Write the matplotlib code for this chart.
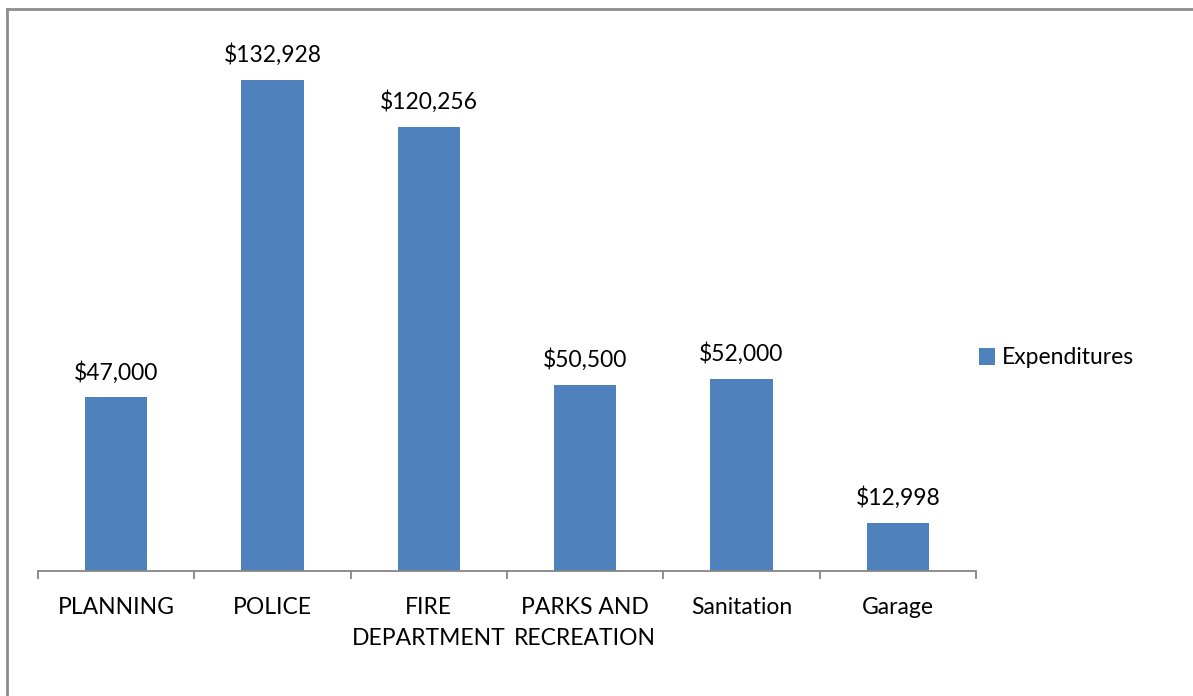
import matplotlib.pyplot as plt
from matplotlib.lines import Line2D

categories = ["PLANNING", "POLICE", "FIRE\nDEPARTMENT", "PARKS AND\nRECREATION", "Sanitation", "Garage"]
expenditures = [47000, 132928, 120256, 50500, 52000, 12998]
series_name = "Expenditures"

plt.rcParams['font.family'] = ['Lato', 'DejaVu Sans']

fig = plt.figure(figsize=(11.93, 6.96), dpi=100)
ax = fig.add_axes([38 / 1193, 125 / 696, 938 / 1193, 517 / 696])

x = list(range(len(categories)))
bars = ax.bar(x, expenditures, width=0.4, color="#4F81BD", label=series_name)
ax.bar_label(bars, labels=[f"${v:,}" for v in expenditures], padding=10, fontsize=16.5)

ax.set_xlim(-0.5, len(categories) - 0.5)
ax.set_ylim(0, 140000)

# tick marks between categories, labels centred under the bars
ax.set_xticks([i - 0.5 for i in range(len(categories) + 1)])
ax.set_xticklabels([])
ax.tick_params(axis="x", which="major", length=6, width=1.3, color="#868686", direction="out")
ax.set_xticks(x, minor=True)
ax.set_xticklabels(categories, minor=True, fontsize=16.5, linespacing=1.6)
ax.tick_params(axis="x", which="minor", length=0, pad=18.5)
ax.set_yticks([])

for s in ["top", "right", "left"]:
    ax.spines[s].set_visible(False)
ax.spines["bottom"].set_color("#868686")
ax.spines["bottom"].set_linewidth(1.3)

leg = ax.legend(loc="center left", bbox_to_anchor=(0.981, 0.412), frameon=False,
                fontsize=16.5, handlelength=0.72, handleheight=0.72, handletextpad=0.3)

# chart border: only the left and top edges are inside the image
bx, by = 7.5 / 1193, 1 - 8.5 / 696
fig.add_artist(Line2D([bx, bx], [0, by], transform=fig.transFigure, color="#8C8C8C", linewidth=2))
fig.add_artist(Line2D([bx, 1], [by, by], transform=fig.transFigure, color="#8C8C8C", linewidth=2))

fig.savefig("out.png", dpi=100)
